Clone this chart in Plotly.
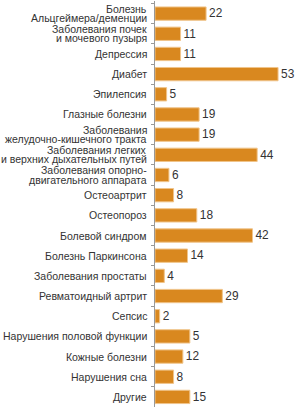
import plotly.graph_objects as go

categories = [
    "Болезнь<br>Альцгеймера/деменции",
    "Заболевания почек<br>и мочевого пузыря",
    "Депрессия",
    "Диабет",
    "Эпилепсия",
    "Глазные болезни",
    "Заболевания<br>желудочно-кишечного тракта",
    "Заболевания легких<br>и верхних дыхательных путей",
    "Заболевания опорно-<br>двигательного аппарата",
    "Остеоартрит",
    "Остеопороз",
    "Болевой синдром",
    "Болезнь Паркинсона",
    "Заболевания простаты",
    "Ревматоидный артрит",
    "Сепсис",
    "Нарушения половой функции",
    "Кожные болезни",
    "Нарушения сна",
    "Другие",
]
# numbers printed next to the bars
value_labels = [22, 11, 11, 53, 5, 19, 19, 44, 6, 8, 18, 42, 14, 4, 29, 2, 5, 12, 8, 15]
# bar lengths as drawn in the picture (the "5" bar is drawn as long as 15)
bar_lengths = [22, 11, 11, 53, 5, 19, 19, 44, 6, 8, 18, 42, 14, 4, 29, 2, 15, 12, 8, 15]

FONT = "Liberation Sans, Arial, sans-serif"

fig = go.Figure(
    go.Bar(
        x=bar_lengths,
        y=categories,
        orientation="h",
        marker=dict(color="#D9881F", line=dict(color="#F0C48A", width=1)),
        text=[str(v) for v in value_labels],
        textposition="outside",
        textfont=dict(family=FONT, size=12.5, color="#333333"),
        cliponaxis=False,
        width=0.66,
    )
)

# category labels as annotations (tight line spacing like the reference)
LINE_GAP = 9.2
annotations = []
for cat in categories:
    lines = cat.split("<br>")
    n = len(lines)
    for i, line in enumerate(lines):
        shift = (n - 1) / 2 * LINE_GAP - i * LINE_GAP
        annotations.append(
            dict(
                x=0,
                xref="paper",
                y=cat,
                yref="y",
                text=line,
                showarrow=False,
                xanchor="right",
                yanchor="middle",
                xshift=-6,
                yshift=shift,
                font=dict(family=FONT, size=10.5, color="#333333"),
            )
        )

fig.update_layout(
    width=295,
    height=409,
    margin=dict(l=155, r=0, t=1, b=2),
    paper_bgcolor="white",
    plot_bgcolor="white",
    showlegend=False,
    font=dict(family=FONT, size=11, color="#333333"),
    annotations=annotations,
    xaxis=dict(range=[0, 60.3], visible=False, fixedrange=True),
    yaxis=dict(
        autorange="reversed",
        showline=True,
        linecolor="#999999",
        linewidth=1,
        ticks="outside",
        ticklen=3,
        tickcolor="#999999",
        tickson="boundaries",
        showgrid=False,
        showticklabels=False,
        fixedrange=True,
    ),
)

fig.write_html("out.html")
